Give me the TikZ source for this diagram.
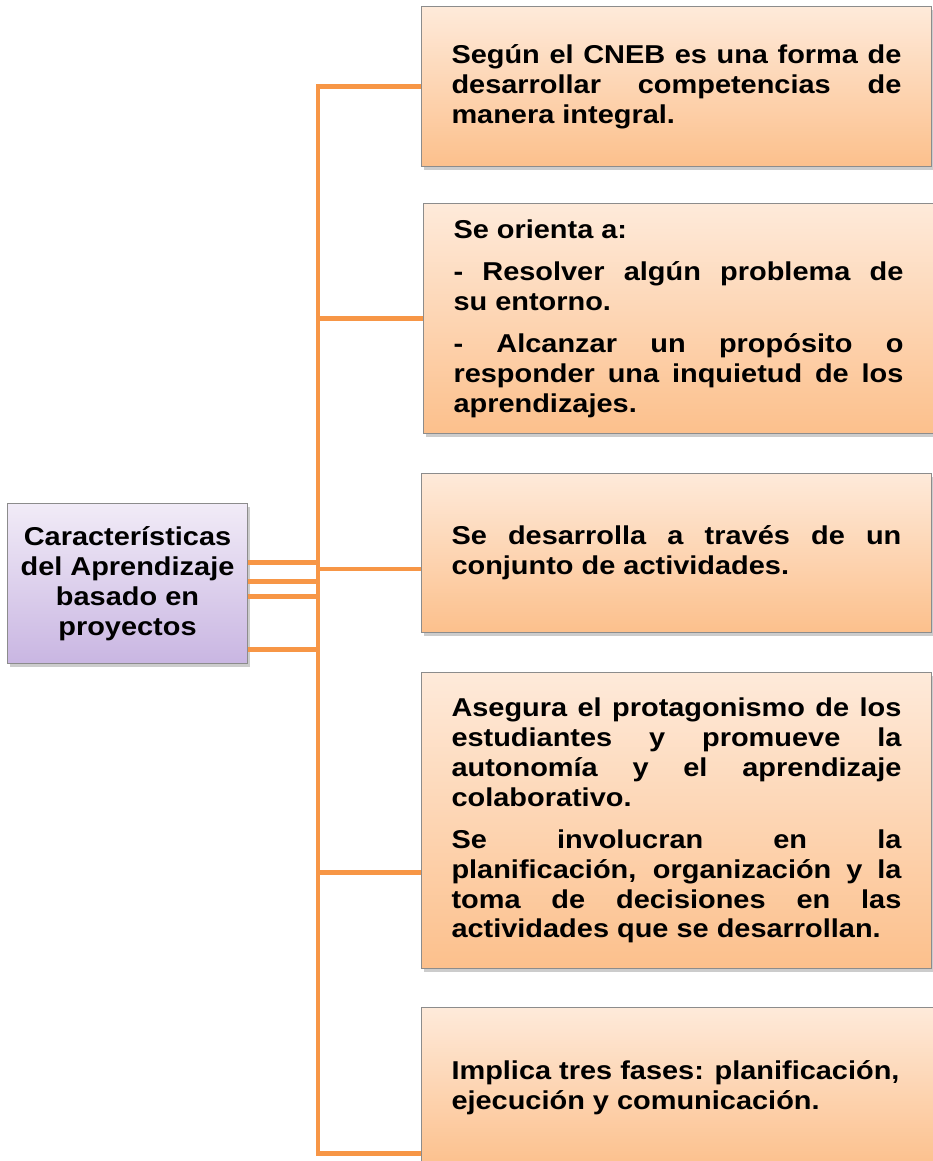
\documentclass[tikz,border=0pt]{standalone}
\usepackage{fontspec}
\setmainfont{Liberation Sans}[FakeStretch=1.12]
\usetikzlibrary{calc, shadows}

\definecolor{naranja}{RGB}{247,150,70}
\definecolor{durazno1}{RGB}{254,234,218}
\definecolor{durazno2}{RGB}{252,192,140}
\definecolor{lila1}{RGB}{241,235,247}
\definecolor{lila2}{RGB}{201,182,226}
\definecolor{borde}{RGB}{140,140,140}

\hyphenpenalty=10000
\tolerance=10000

\begin{document}
\begin{tikzpicture}[x=0.02cm, y=-0.02cm,
    caja/.style={draw=borde, line width=0.6pt, top color=durazno1, bottom color=durazno2,
        drop shadow={shadow xshift=0.05cm, shadow yshift=-0.07cm, opacity=0.4},
        anchor=north west, minimum width=10.2cm, text width=9cm, inner xsep=0.6cm,
        align=justify, font=\fontsize{14.7}{17}\selectfont\bfseries},
    tema/.style={draw=borde, line width=0.6pt, top color=lila1, bottom color=lila2,
        drop shadow={shadow xshift=0.05cm, shadow yshift=-0.07cm, opacity=0.4},
        anchor=north west, minimum width=4.8cm, minimum height=3.2cm, align=center,
        font=\fontsize{14.7}{17}\selectfont\bfseries},
    enlace/.style={draw=naranja, line width=2.8pt}]
    \useasboundingbox (0,0) rectangle (933,1161);

    % nodo central
    \node[tema] (caract) at (7,503) {Características\\del Aprendizaje\\basado en\\proyectos};

    % cajas
    \node[caja, minimum height=3.2cm] (c1) at (421,6)
        {Según el CNEB es una forma de\linebreak desarrollar competencias de\linebreak manera integral.};
    \node[caja, minimum height=4.6cm, minimum width=10.16cm] (c2) at (423,203)
        {Se orienta a:\\[7pt]
         - Resolver algún problema de\linebreak su entorno.\\[7pt]
         - Alcanzar un propósito o\linebreak responder una inquietud de los\linebreak aprendizajes.};
    \node[caja, minimum height=3.18cm] (c3) at (421,473)
        {Se desarrolla a través de un\linebreak conjunto de actividades.};
    \node[caja, minimum height=5.92cm] (c4) at (421,672)
        {Asegura el protagonismo de los\linebreak estudiantes y promueve la\linebreak
         autonomía y el aprendizaje\linebreak colaborativo.\\[7pt]
         Se involucran en la\linebreak planificación, organización y la\linebreak
         toma de decisiones en las\linebreak actividades que se desarrollan.};
    \node[caja, minimum height=3.2cm, text width=9.3cm] (c5) at (421,1007)
        {Implica tres fases: planificación,\\ejecución y comunicación.};

    % conectores
    \coordinate (bus) at (318,0);
    \coordinate (p3) at ($(c3.west)+(0,16)$);
    \coordinate (p4) at ($(c4.west)+(0,52)$);
    \coordinate (p5) at ($(c5.west)+(0,66)$);
    \draw[enlace] ($(caract.north east)!0.37!(caract.south east)$) -| (bus |- c1.west) -- (c1.west);
    \draw[enlace] ($(caract.north east)!0.49!(caract.south east)$) -| (bus |- c2.west) -- (c2.west);
    \draw[enlace] ($(caract.north east)!0.58!(caract.south east)$) -| (bus |- p3) -- (p3);
    \draw[enlace] ($(caract.north east)!0.37!(caract.south east)$) -| (bus |- p4) -- (p4);
    \draw[enlace] ($(caract.north east)!0.91!(caract.south east)$) -| (bus |- p5) -- (p5);
\end{tikzpicture}
\end{document}
